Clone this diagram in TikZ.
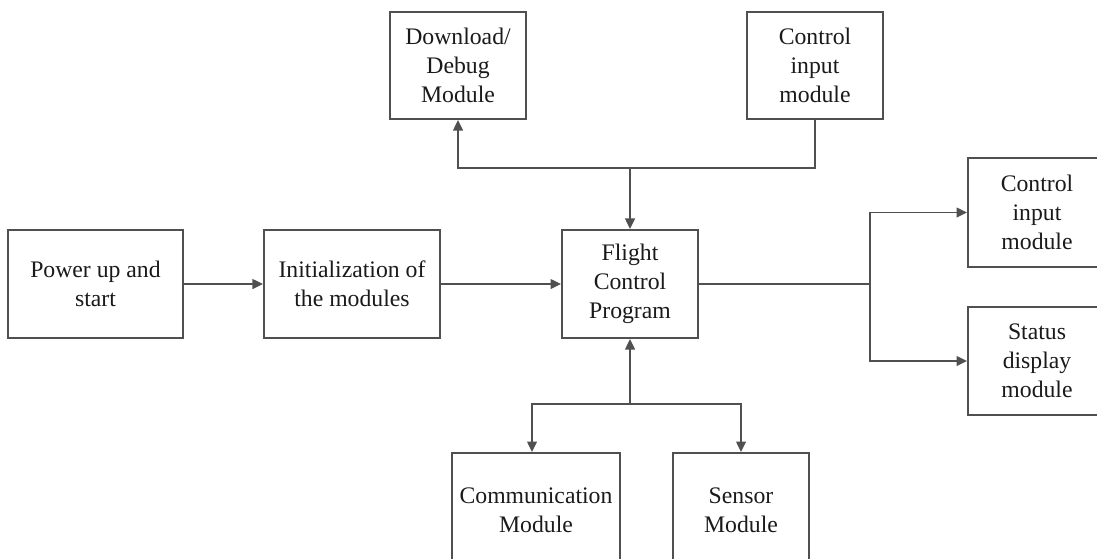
\documentclass[tikz,border=0pt]{standalone}
\usepackage{fontspec}
\setmainfont{Liberation Serif}
\usetikzlibrary{arrows.meta}
\definecolor{linegray}{HTML}{505050}
\definecolor{txt}{HTML}{1A1A1A}
\begin{document}
\begin{tikzpicture}[x=0.02cm,y=-0.02cm,
  box/.style 2 args={draw=linegray,line width=1.1pt,minimum width={#1*0.02cm},minimum height={#2*0.02cm},
    align=center,inner sep=0pt,text=txt,font=\fontsize{13.5}{16.4}\selectfont},
  conn/.style={draw=linegray,line width=1.1pt},
  arr/.style={conn,-{Triangle[length=6pt,width=5.5pt]}}]
\useasboundingbox (0,0) rectangle (1097,558);
\clip (0,0) rectangle (1097,558);
\node[box={175}{108}] (pw) at (95.5,284) {Power up and\\start};
\node[box={176}{108}] (ini) at (352,284) {Initialization of\\the modules};
\node[box={136}{108}] (fcp) at (630,284) {Flight\\Control\\Program};
\node[box={136}{107}] (dl) at (458,65.5) {Download/\\Debug\\Module};
\node[box={136}{107}] (ct) at (815,65.5) {Control\\input\\module};
\node[box={138}{109}] (cr) at (1037,212.5) {Control\\input\\module};
\node[box={138}{108}] (st) at (1037,361) {Status\\display\\module};
\node[box={168}{114}] (cm) at (536,510) {Communication\\Module};
\node[box={136}{114}] (sn) at (741,510) {Sensor\\Module};
\coordinate (jt) at (630,168);
\coordinate (jr) at (870,284);
\coordinate (jb) at (630,404);
\draw[arr] (pw) -- (ini);
\draw[arr] (ini) -- (fcp);
\draw[arr] (ct.south) |- (jt) -| (dl.south);
\draw[arr] (jt) -- (fcp.north);
\draw[conn] (fcp.east) -- (jr);
\draw[arr] (jr) |- (cr.west);
\draw[arr] (jr) |- (st.west);
\draw[arr] (jb) -- (fcp.south);
\draw[arr] (jb) -| ([xshift=-4*0.02cm]cm.north);
\draw[arr] (jb) -| (sn.north);
\end{tikzpicture}
\end{document}
